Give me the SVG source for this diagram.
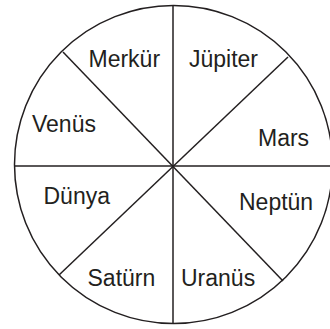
<svg xmlns="http://www.w3.org/2000/svg" width="330" height="329" viewBox="0 0 330 329">
<style>
.ln{stroke:#231f20;stroke-width:1.5;fill:none}
.t{font-family:"Liberation Sans",Arial,sans-serif;font-size:23px;fill:#231f20}
</style>
<rect width="330" height="329" fill="#fff"/>
<g id="wheel">
<circle class="ln" cx="173.5" cy="164.5" r="159"/>
</g>
<g id="connectors">
<line class="ln" x1="173" y1="6" x2="173" y2="323"/>
<line class="ln" x1="14" y1="166" x2="332" y2="166"/>
<line class="ln" x1="63" y1="52" x2="283" y2="281"/>
<line class="ln" x1="288" y1="57" x2="59" y2="275"/>
</g>
<g id="merkur"><text class="t" x="88.5" y="66.5">Merkür</text></g>
<g id="jupiter"><text class="t" x="189" y="66.5">Jüpiter</text></g>
<g id="venus"><text class="t" x="32" y="132">Venüs</text></g>
<g id="mars"><text class="t" x="258" y="146">Mars</text></g>
<g id="dunya"><text class="t" x="43.5" y="204">Dünya</text></g>
<g id="neptun"><text class="t" x="239" y="210">Neptün</text></g>
<g id="saturn"><text class="t" x="87.5" y="285.5">Satürn</text></g>
<g id="uranus"><text class="t" x="181" y="285.5">Uranüs</text></g>
</svg>
